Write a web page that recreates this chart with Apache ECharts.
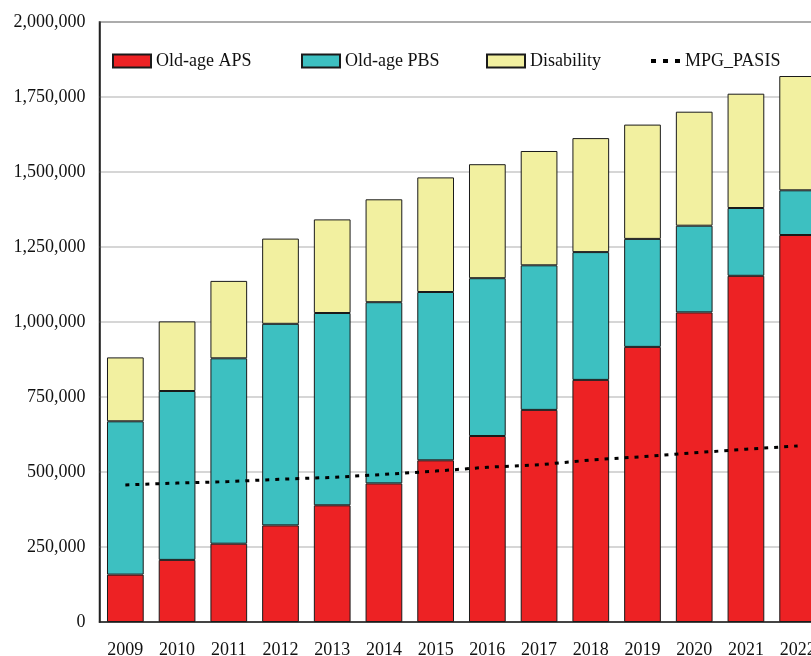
<!DOCTYPE html>
<html>
<head>
<meta charset="utf-8">
<script src="https://cdn.jsdelivr.net/npm/echarts@6/dist/echarts.min.js"></script>
<style>
html,body{margin:0;padding:0;background:#fff;}
#chart{width:811px;height:656px;}
</style>
</head>
<body>
<div id="chart"></div>
<script>
var years = ['2009','2010','2011','2012','2013','2014','2015','2016','2017','2018','2019','2020','2021','2022'];
var oldAgeAPS = [158000,207000,261000,322000,389000,462000,539000,620000,707000,807000,917000,1032000,1154000,1290000];
var oldAgePBS = [511000,563000,618000,672000,641000,604000,561000,526000,482000,426000,360000,289000,226000,149000];
var disability = [213000,232000,258000,284000,312000,343000,382000,380000,381000,380000,381000,380000,381000,381000];
var mpgPasis = [457000,463000,468000,476000,482000,492000,503000,516000,524000,540000,551000,564000,576000,587000];
var yTicks = [0,250000,500000,750000,1000000,1250000,1500000,1750000,2000000];

var FONT = '"Liberation Serif", "Times New Roman", serif';
var chart = echarts.init(document.getElementById('chart'), null, {renderer:'canvas'});

function legendAt(name, left, opts) {
  var l = {
    data: [name], left: left, top: 47, padding: 5, itemWidth: 38, itemHeight: 13, itemGap: 0, icon: 'rect',
    textStyle: {fontFamily: FONT, fontSize: 18, color: '#111'},
    selectedMode: false
  };
  return Object.assign(l, opts || {});
}

chart.setOption({
  animation: false,
  backgroundColor: '#fff',
  legend: [
    legendAt('Old-age APS', 107),
    legendAt('Old-age PBS', 296),
    legendAt('Disability', 481),
    legendAt('MPG_PASIS', 646, {
      itemWidth: 29, itemHeight: 4,
      icon: 'path://M0,0h5v4h-5z M12,0h5v4h-5z M24,0h5v4h-5z',
      itemStyle: {color: '#000', borderWidth: 0}
    })
  ],
  grid: {
    left: 99.5, top: 22, height: 600, width: 724,
    outerBoundsMode: 'none', containLabel: false,
    show: true, borderColor: '#222', borderWidth: 1.5, backgroundColor: 'transparent'
  },
  xAxis: {
    type: 'category', data: years,
    axisLine: {show: true, lineStyle: {color: '#222', width: 1.5}},
    axisTick: {show: false},
    axisLabel: {margin: 19, fontFamily: FONT, fontSize: 18, color: '#111'}
  },
  yAxis: {
    type: 'value', min: yTicks[0], max: yTicks[yTicks.length-1], interval: yTicks[1]-yTicks[0],
    axisLine: {show: true, lineStyle: {color: '#222', width: 1.5}},
    axisTick: {show: false},
    splitLine: {lineStyle: {color: '#c8c8c8', width: 1.5}},
    axisLabel: {
      margin: 14, fontFamily: FONT, fontSize: 18, color: '#111',
      formatter: function (v) { return v.toLocaleString('en-US'); }
    }
  },
  series: [
    {type: 'bar', stack: 'total', barCategoryGap: '29%', name: 'Old-age APS', data: oldAgeAPS,
      itemStyle: {color: '#ED2224', borderColor: '#1a1a1a', borderWidth: 1}},
    {type: 'bar', stack: 'total', barCategoryGap: '29%', name: 'Old-age PBS', data: oldAgePBS,
      itemStyle: {color: '#3DC0C1', borderColor: '#1a1a1a', borderWidth: 1}},
    {type: 'bar', stack: 'total', barCategoryGap: '29%', name: 'Disability', data: disability,
      itemStyle: {color: '#F2F0A0', borderColor: '#1a1a1a', borderWidth: 1}},
    {
      name: 'MPG_PASIS', type: 'line', data: mpgPasis, symbol: 'none', z: 5,
      itemStyle: {color: '#000'},
      lineStyle: {color: '#000', width: 3, type: [4, 6]}
    }
  ]
});
</script>
</body>
</html>
